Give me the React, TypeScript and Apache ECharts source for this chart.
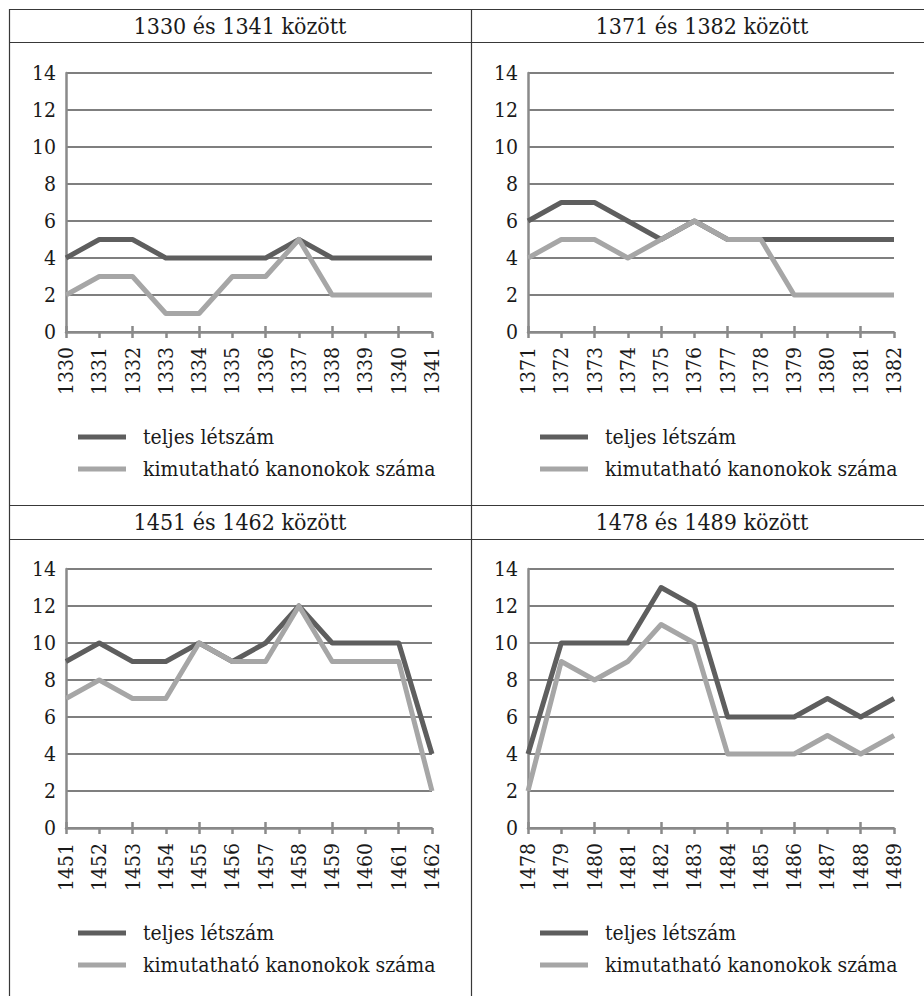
import React, { useEffect, useRef } from 'react';
import * as echarts from 'echarts';

const titles = ['1330 és 1341 között', '1371 és 1382 között', '1451 és 1462 között', '1478 és 1489 között'];

const years1330 = ['1330', '1331', '1332', '1333', '1334', '1335', '1336', '1337', '1338', '1339', '1340', '1341'];
const years1371 = ['1371', '1372', '1373', '1374', '1375', '1376', '1377', '1378', '1379', '1380', '1381', '1382'];
const years1451 = ['1451', '1452', '1453', '1454', '1455', '1456', '1457', '1458', '1459', '1460', '1461', '1462'];
const years1478 = ['1478', '1479', '1480', '1481', '1482', '1483', '1484', '1485', '1486', '1487', '1488', '1489'];

const total1330 = [4, 5, 5, 4, 4, 4, 4, 5, 4, 4, 4, 4];
const canons1330 = [2, 3, 3, 1, 1, 3, 3, 5, 2, 2, 2, 2];
const total1371 = [6, 7, 7, 6, 5, 6, 5, 5, 5, 5, 5, 5];
const canons1371 = [4, 5, 5, 4, 5, 6, 5, 5, 2, 2, 2, 2];
const total1451 = [9, 10, 9, 9, 10, 9, 10, 12, 10, 10, 10, 4];
const canons1451 = [7, 8, 7, 7, 10, 9, 9, 12, 9, 9, 9, 2];
const total1478 = [4, 10, 10, 10, 13, 12, 6, 6, 6, 7, 6, 7];
const canons1478 = [2, 9, 8, 9, 11, 10, 4, 4, 4, 5, 4, 5];

const seriesNames = ['teljes létszám', 'kimutatható kanonokok száma'];
const yMin = 0;
const yMax = 14;
const yStep = 2;

const FONT = 'DejaVu Serif Condensed';
const DARK = '#5e5e5e';
const LIGHT = '#a6a6a6';
const GRIDC = '#7f7f7f';
const AXISC = '#8a8a8a';
const BORDER = '#383838';

const panels = [
  { title: titles[0], years: years1330, total: total1330, canons: canons1330, left: 66, top: 73, cx: 240, ty: 25.5, legTop: 419 },
  { title: titles[1], years: years1371, total: total1371, canons: canons1371, left: 528, top: 73, cx: 702, ty: 25.5, legTop: 419 },
  { title: titles[2], years: years1451, total: total1451, canons: canons1451, left: 66, top: 569, cx: 240, ty: 522, legTop: 915 },
  { title: titles[3], years: years1478, total: total1478, canons: canons1478, left: 528, top: 569, cx: 702, ty: 522, legTop: 915 },
];

export default function App() {
  const ref = useRef<HTMLDivElement>(null);

  useEffect(() => {
    if (!ref.current) return;
    const chart = echarts.init(ref.current, undefined, { renderer: 'svg' });

    const grid: any[] = [];
    const xAxis: any[] = [];
    const yAxis: any[] = [];
    const series: any[] = [];
    const legend: any[] = [];
    const graphic: any[] = [];

    panels.forEach((p, i) => {
      grid.push({ left: p.left, top: p.top, width: 366, height: 259, containLabel: false });
      xAxis.push({
        type: 'category',
        gridIndex: i,
        data: p.years,
        boundaryGap: false,
        axisLine: { show: true, lineStyle: { color: AXISC, width: 2.5 } },
        axisTick: { show: true, length: 6, lineStyle: { color: AXISC, width: 2.5 } },
        axisLabel: { rotate: 90, margin: 15, fontFamily: FONT, fontSize: 21, color: '#1a1a1a' },
        splitLine: { show: false },
      });
      xAxis.push({
        type: 'category',
        gridIndex: i,
        data: p.years,
        boundaryGap: false,
        position: 'bottom',
        axisLine: { show: false },
        axisTick: { show: true, inside: true, length: 6, lineStyle: { color: AXISC, width: 2.5 } },
        axisLabel: { show: false },
        splitLine: { show: false },
      });
      yAxis.push({
        type: 'value',
        gridIndex: i,
        min: yMin,
        max: yMax,
        interval: yStep,
        axisLine: { show: true, lineStyle: { color: AXISC, width: 2.5 } },
        axisTick: { show: false },
        axisLabel: { margin: 10, fontFamily: FONT, fontSize: 21, color: '#1a1a1a' },
        splitLine: { show: true, lineStyle: { color: GRIDC, width: 2 } },
      });
      series.push({
        type: 'line',
        name: seriesNames[0],
        xAxisIndex: i * 2,
        yAxisIndex: i,
        data: p.total,
        color: DARK,
        showSymbol: false,
        symbol: 'none',
        lineStyle: { color: DARK, width: 5, join: 'round' },
        z: 3,
      });
      series.push({
        type: 'line',
        name: seriesNames[1],
        xAxisIndex: i * 2,
        yAxisIndex: i,
        data: p.canons,
        color: LIGHT,
        showSymbol: false,
        symbol: 'none',
        lineStyle: { color: LIGHT, width: 5, join: 'round' },
        z: 4,
      });
      legend.push({
        data: seriesNames,
        orient: 'vertical',
        left: p.left + 7,
        top: p.legTop,
        icon: 'rect',
        itemWidth: 48,
        itemHeight: 5,
        itemGap: 6,
        selectedMode: false,
        textStyle: { fontFamily: FONT, fontSize: 21, color: '#1a1a1a', lineHeight: 26, padding: [0, 0, 0, 12] },
      });
      graphic.push({
        type: 'text',
        x: p.cx,
        y: p.ty,
        style: {
          text: p.title,
          font: '23px "DejaVu Serif Condensed"',
          fill: '#1a1a1a',
          textAlign: 'center',
          textVerticalAlign: 'middle',
        },
      });
    });

    const hLines = [9.5, 42.5, 505.5, 539.5];
    hLines.forEach((y) => {
      graphic.push({ type: 'line', shape: { x1: 9, y1: y, x2: 924, y2: y }, style: { stroke: BORDER, lineWidth: 1.2 } });
    });
    [9.5, 471.5].forEach((x) => {
      graphic.push({ type: 'line', shape: { x1: x, y1: 9, x2: x, y2: 996 }, style: { stroke: BORDER, lineWidth: 1.2 } });
    });

    chart.setOption({
      animation: false,
      backgroundColor: '#ffffff',
      textStyle: { fontFamily: FONT },
      grid,
      xAxis,
      yAxis,
      series,
      legend,
      graphic,
    });

    return () => {
      chart.dispose();
    };
  }, []);

  return (
    <div
      ref={ref}
      style={{ position: 'fixed', left: 0, top: 0, width: 924, height: 996, background: '#fff' }}
    />
  );
}
